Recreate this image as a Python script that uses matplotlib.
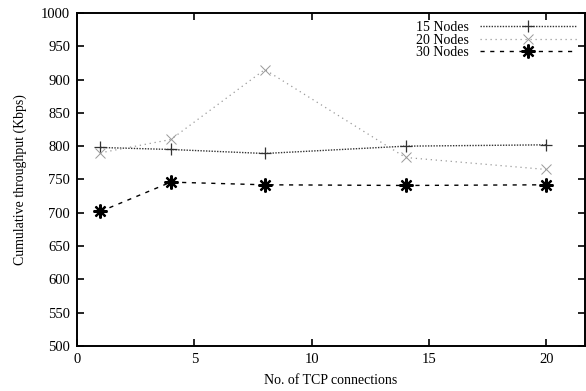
import matplotlib
matplotlib.use("Agg")
import matplotlib.pyplot as plt

# Datos
conexiones = [1, 4, 8, 14, 20]
nodos_15 = [798, 795, 789, 800, 802]
nodos_20 = [790, 810, 915, 783, 765]
nodos_30 = [702, 746, 742, 741, 742]

plt.rcParams["font.family"] = ["Liberation Serif", "DejaVu Serif"]

fig = plt.figure(figsize=(5.86, 3.91), dpi=100)
ax = fig.add_axes([0.1314, 0.115, 0.867, 0.852])

ax.plot(conexiones, nodos_15, color="#333333", linestyle=(0, (1, 1)), linewidth=1.0,
        marker="+", markersize=9, markeredgewidth=0.9, label="15 Nodes")
ax.plot(conexiones, nodos_20, color="#9a9a9a", linestyle=(0, (1, 3)), linewidth=0.9,
        marker="x", markersize=7, markeredgewidth=0.7, label="20 Nodes")
ax.plot(conexiones, nodos_30, color="black", linestyle=(0, (3, 4)), linewidth=1.0,
        marker=(8, 2, 0), markersize=10, markeredgewidth=1.6, label="30 Nodes")

ax.set_xlim(0, 21.65)
ax.set_ylim(500, 1000)
ax.set_xticks([0, 5, 10, 15, 20])
ax.set_yticks(range(500, 1001, 50))
ax.tick_params(direction="in", top=True, right=True, length=5, width=1.2, labelsize=10.5, pad=5)
for s in ax.spines.values():
    s.set_linewidth(1.4)

ax.set_xlabel("No. of TCP connections", fontsize=10, labelpad=6)
ax.set_ylabel("Cumulative throughput (Kbps)", fontsize=10, labelpad=10)

ax.legend(loc="upper right", frameon=False, markerfirst=False, fontsize=10,
          handlelength=7.0, labelspacing=-0.05, borderaxespad=0.2, handletextpad=0.8)

fig.savefig("out.png", dpi=100)
